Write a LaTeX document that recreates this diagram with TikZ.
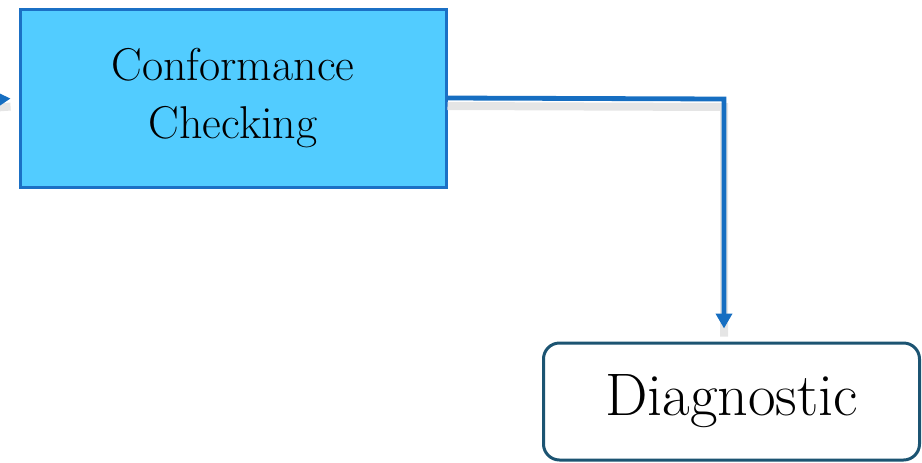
\documentclass[tikz,border=0pt]{standalone}
\usetikzlibrary{arrows.meta}

\definecolor{boxfill}{RGB}{82,204,255}
\definecolor{boxline}{RGB}{27,112,197}
\definecolor{flowline}{RGB}{22,110,193}
\definecolor{diagline}{RGB}{28,84,114}

\begin{document}
\begin{tikzpicture}[x=0.5pt,y=-0.5pt,
  stepbox/.style={draw=boxline,fill=boxfill,line width=1.5pt,minimum width=213pt,minimum height=89pt,align=center,font=\fontsize{23}{29}\selectfont},
  endbox/.style={draw=diagline,fill=white,line width=1.5pt,rounded corners=8pt,minimum width=188pt,minimum height=58.5pt,font=\fontsize{30}{36}\selectfont},
  flow/.style={draw=flowline,line width=2.4pt,-{Triangle[width=8pt,length=7.5pt]},
    preaction={draw=black!10,line width=4pt,transform canvas={yshift=-4pt},-}}
]
\useasboundingbox (0,0) rectangle (922,462);

\node[stepbox] (conf) at (233,98) {Conformance\\Checking};
\node[endbox] (diag) at (731.5,401.5) {Diagnostic};

%\coordinate (bend) at (731.5,99);
\coordinate (in) at (-10,100);
\coordinate (bend) at (724,99);

\draw[flow,shorten >=4pt] (in) -- (conf.west);
\draw[flow,shorten >=6.5pt] (conf.east) -- (bend) -- (bend |- diag.north);
\end{tikzpicture}
\end{document}
